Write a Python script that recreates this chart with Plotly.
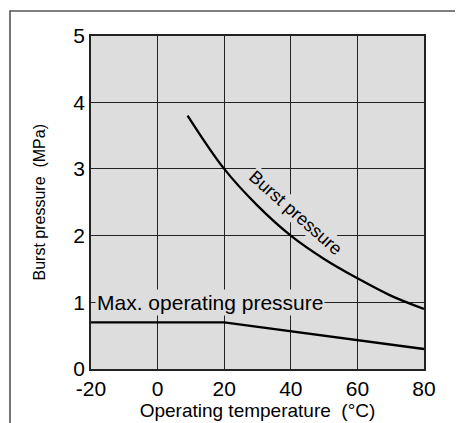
import plotly.graph_objects as go

burst_temp = [9, 20, 30, 40, 50, 60, 70, 80]
burst_p = [3.8, 3.0, 2.45, 2.0, 1.65, 1.36, 1.1, 0.9]

max_temp = [-20, 20, 80]
max_p = [0.7, 0.7, 0.3]

x_ticks = [-20, 0, 20, 40, 60, 80]
x_ticktext = ["-20", "0", "20", "40", "60", "80"]
y_ticks = [0, 1, 2, 3, 4, 5]

# page body has an 8px margin, so the figure is shifted by 8px
OFF = 8
W, H = 463, 423
# small margins: the paper area is the outer frame; plot area set by domains
ML, MT, MR, MB = 10 - OFF, 11 - OFF, 0, 0
PW, PH = W - ML - MR, H - MT - MB
plot_l, plot_r = 91 - OFF, 424 - OFF
plot_t, plot_b = 35.5 - OFF, 369 - OFF
x_dom = [(plot_l - ML) / PW, (plot_r - ML) / PW]
y_dom = [1 - (plot_b - MT) / PH, 1 - (plot_t - MT) / PH]

FONT = "Liberation Sans, Arial, Helvetica"

fig = go.Figure()
fig.add_trace(go.Scatter(x=burst_temp, y=burst_p, mode="lines",
                         line=dict(color="black", width=2.3, shape="spline"),
                         showlegend=False, hoverinfo="skip"))
fig.add_trace(go.Scatter(x=max_temp, y=max_p, mode="lines",
                         line=dict(color="black", width=2.3),
                         showlegend=False, hoverinfo="skip"))

fig.add_annotation(x=-18.9, y=1.0, xref="x", yref="y", text="Max. operating pressure",
                   showarrow=False, xanchor="left", yanchor="middle",
                   font=dict(family=FONT, size=21, color="#000"),
                   bgcolor="#dddddd", borderpad=1)
fig.add_annotation(x=41.5, y=2.34, xref="x", yref="y", text="Burst pressure",
                   showarrow=False, textangle=41.5,
                   font=dict(family=FONT, size=18, color="#000"),
                   bgcolor="#dddddd", borderpad=0)

fig.add_shape(type="rect", xref="paper", yref="paper", layer="above",
              x0=0, x1=1.1, y0=-0.1, y1=1, line=dict(color="#555", width=1.6),
              fillcolor="rgba(0,0,0,0)")

axis_common = dict(showgrid=True, gridcolor="#222", gridwidth=1.2,
                   showline=True, linecolor="#222", linewidth=1.5, mirror=True,
                   zeroline=False, ticks="", automargin=False,
                   tickfont=dict(family=FONT, size=21, color="#000"))

fig.update_layout(
    width=W, height=H,
    margin=dict(l=ML, r=MR, t=MT, b=MB, autoexpand=False),
    paper_bgcolor="white", plot_bgcolor="#dddddd",
    xaxis=dict(range=[-20, 80], domain=x_dom, tickvals=x_ticks, ticktext=x_ticktext,
               title=dict(text="Operating temperature  (°C)", standoff=3,
                          font=dict(family=FONT, size=19, color="#000")),
               **axis_common),
    yaxis=dict(range=[0, 5], domain=y_dom, tickvals=y_ticks,
               title=dict(text="Burst pressure  (MPa)", standoff=24,
                          font=dict(family=FONT, size=16, color="#000")),
               **axis_common),
)
fig.write_html("out.html", config={"displayModeBar": False})
